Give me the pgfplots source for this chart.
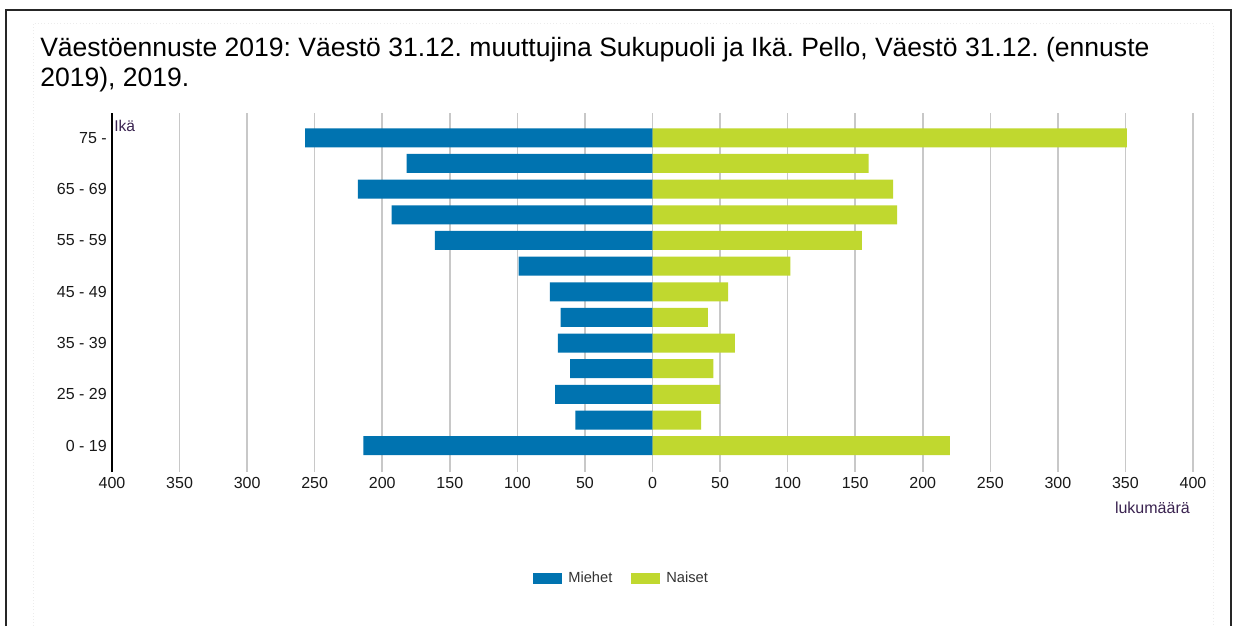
\documentclass[border=0pt]{standalone}
\usepackage{fontspec}
\setmainfont{Liberation Sans}
\usepackage{pgfplots}
\pgfplotsset{compat=1.18}
\definecolor{miehet}{HTML}{0073B0}
\definecolor{naiset}{HTML}{C0D82F}
\definecolor{gridgray}{HTML}{C8C8C8}
\definecolor{labelink}{HTML}{3A2350}
\frenchspacing

\begin{document}
\begin{tikzpicture}
\useasboundingbox (0,0) rectangle (926.25pt,-469.5pt);
\fill[white] (0,0) rectangle (926.25pt,-469.5pt);
% frame of the page
\draw[gray!15, dotted] (24.75pt,-469.5pt) -- (24.75pt,-17.25pt) -- (909.75pt,-17.25pt) -- (909.75pt,-469.5pt);
\draw[black!85, line width=1.5pt] (4.5pt,-469.5pt) -- (4.5pt,-7.5pt) -- (923.25pt,-7.5pt) -- (923.25pt,-469.5pt);

\node[anchor=base west, inner sep=0pt, font=\fontsize{19.9pt}{22.5pt}\selectfont] at (30pt,-42pt)
  {Väestöennuste 2019: Väestö 31.12. muuttujina Sukupuoli ja Ikä. Pello, Väestö 31.12. (ennuste};
\node[anchor=base west, inner sep=0pt, font=\fontsize{19.9pt}{22.5pt}\selectfont] at (30pt,-64.5pt)
  {2019), 2019.};

\begin{axis}[
  at={(84pt,-354pt)}, anchor=south west, scale only axis,
  width=810.75pt, height=269.25pt,
  xmin=-400, xmax=400, ymin=-1.025, ymax=12.966,
  xbar, bar width=14.25pt,
  xtick={-400,-350,...,400},
  xticklabels={400,350,300,250,200,150,100,50,0,50,100,150,200,250,300,350,400},
  ytick={0,2,...,12},
  yticklabels={0 - 19,25 - 29,35 - 39,45 - 49,55 - 59,65 - 69,75 -},
  major tick length=0pt,
  xmajorgrids, major grid style={gridgray, line width=1.2pt},
  axis line style={draw=none},
  tick label style={font=\fontsize{12pt}{14pt}\selectfont, text=black!90},
  xticklabel style={anchor=north, inner sep=0pt, yshift=-4.1pt},
  yticklabel style={anchor=east, inner sep=0pt, xshift=-3.75pt},
  /pgf/number format/assume math mode=true,
  legend columns=2,
  legend style={at={(0.3895,-0.2953)}, anchor=west, draw=none, fill=none,
    inner sep=0pt, nodes={inner sep=0pt}, cells={anchor=west},
    font=\fontsize{11pt}{13pt}\selectfont, text=black!80,
    /tikz/every odd column/.append style={column sep=4.5pt},
    /tikz/every even column/.append style={column sep=14.25pt}},
  legend image code/.code={\fill[#1] (0pt,-4.125pt) rectangle (21.75pt,4.125pt);},
  clip=false,
]
% 0-19, 20-24, 25-29, ..., 70-74, 75-
\addplot[fill=miehet, draw=none, bar shift=0pt] coordinates {
  (-214,0) (-57,1) (-72,2) (-61,3) (-70,4) (-68,5) (-76,6)
  (-99,7) (-161,8) (-193,9) (-218,10) (-182,11) (-257,12)};
\addlegendentry{Miehet}
\addplot[fill=naiset, draw=none, bar shift=0pt] coordinates {
  (220,0) (36,1) (50,2) (45,3) (61,4) (41,5) (56,6)
  (102,7) (155,8) (181,9) (178,10) (160,11) (351,12)};
\addlegendentry{Naiset}
\draw[black, line width=1.5pt] (rel axis cs:0,0) -- (rel axis cs:0,1);
\end{axis}

\node[anchor=west, inner sep=0pt, text=labelink, font=\fontsize{11.7pt}{13pt}\selectfont] at (85.5pt,-94.5pt) {Ikä};
\node[anchor=east, inner sep=0pt, text=labelink, font=\fontsize{12pt}{14pt}\selectfont] at (892.5pt,-381pt) {lukumäärä};
\end{tikzpicture}
\end{document}
